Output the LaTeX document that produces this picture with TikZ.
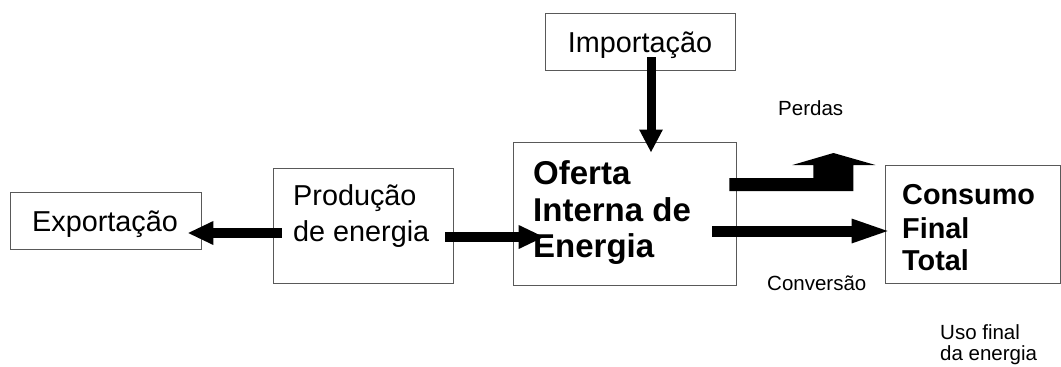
\documentclass[tikz,border=0pt]{standalone}
\usepackage{fontspec}
\setmainfont{Liberation Sans}
\usetikzlibrary{arrows.meta}
\begin{document}
\begin{tikzpicture}[x=1pt,y=-1pt,
  box/.style={draw=black!65, line width=0.9pt, inner sep=0pt},
  big/.style={font=\fontsize{28.8}{34}\selectfont},
  bigb/.style={font=\fontsize{33}{38}\selectfont\bfseries},
  consb/.style={font=\fontsize{28.8}{34}\selectfont\bfseries},
  small/.style={font=\fontsize{20.5}{24}\selectfont},
  txt/.style={inner sep=0pt, anchor=base west},
  ctxt/.style={inner sep=0pt, anchor=base},
  fat/.style={line width=10pt, -{Triangle[length=26pt,width=22pt]}},
  fatv/.style={line width=9pt, -{Triangle[length=23pt,width=22pt]}},
  fatc/.style={line width=11pt, -{Triangle[length=41pt,width=21pt]}}]
\useasboundingbox (0,0) rectangle (1061,367);

% boxes
\node[box, minimum width=191pt, minimum height=57pt] (exp) at (105.5,220.5) {};
\node[box, minimum width=180pt, minimum height=115pt] (prod) at (363,225.5) {};
\node[box, minimum width=223pt, minimum height=143pt] (ofe) at (624.5,213.5) {};
\node[box, minimum width=190pt, minimum height=57pt] (imp) at (640,41.5) {};
\node[box, minimum width=175pt, minimum height=118pt] (cons) at (972.5,224) {};

% texts
\node[ctxt, big] (expT) at (105,231) {Exportação};
\node[ctxt, big] (impT) at (640,52) {Importação};
\node[txt, big] (prodT1) at (293,205) {Produção};
\node[txt, big] (prodT2) at (293,241) {de energia};
\node[txt, bigb] (ofeT1) at (533,184) {Oferta};
\node[txt, bigb] (ofeT2) at (533,221) {Interna de};
\node[txt, bigb] (ofeT3) at (533,257) {Energia};
\node[txt, consb] (consT1) at (902,204) {Consumo};
\node[txt, consb] (consT2) at (902,238) {Final};
\node[txt, consb] (consT3) at (902,270) {Total};
\node[txt, small] (perdas) at (778,115) {Perdas};
\node[txt, small] (conv) at (767,290) {Conversão};
\node[txt, small] (uso1) at (940,339) {Uso final};
\node[txt, small] (uso2) at (940,360) {da energia};

% arrows
\draw[fat] ([shift={(9,7.5)}]prod.west) -- ([shift={(-14,12.5)}]exp.east);
\draw[fat] ([shift={(-8,11.5)}]prod.east) -- ([shift={(32,23.5)}]ofe.west);
\draw[fatv] ([shift={(11,-13)}]imp.south) -- ([shift={(26.5,11)}]ofe.north);
\draw[fatc] ([shift={(-24,17.5)}]ofe.east) -- ([shift={(8,7)}]cons.west);
\fill ([shift={(-7,-35.5)}]ofe.east) -- ++(84,0) -- ++(0,-13) -- ++(-21,0)
  -- ++(41,-12) -- ++(42,12) -- ++(-22,0) -- ++(0,26) -- ++(-124,0) -- cycle;
\end{tikzpicture}
\end{document}
